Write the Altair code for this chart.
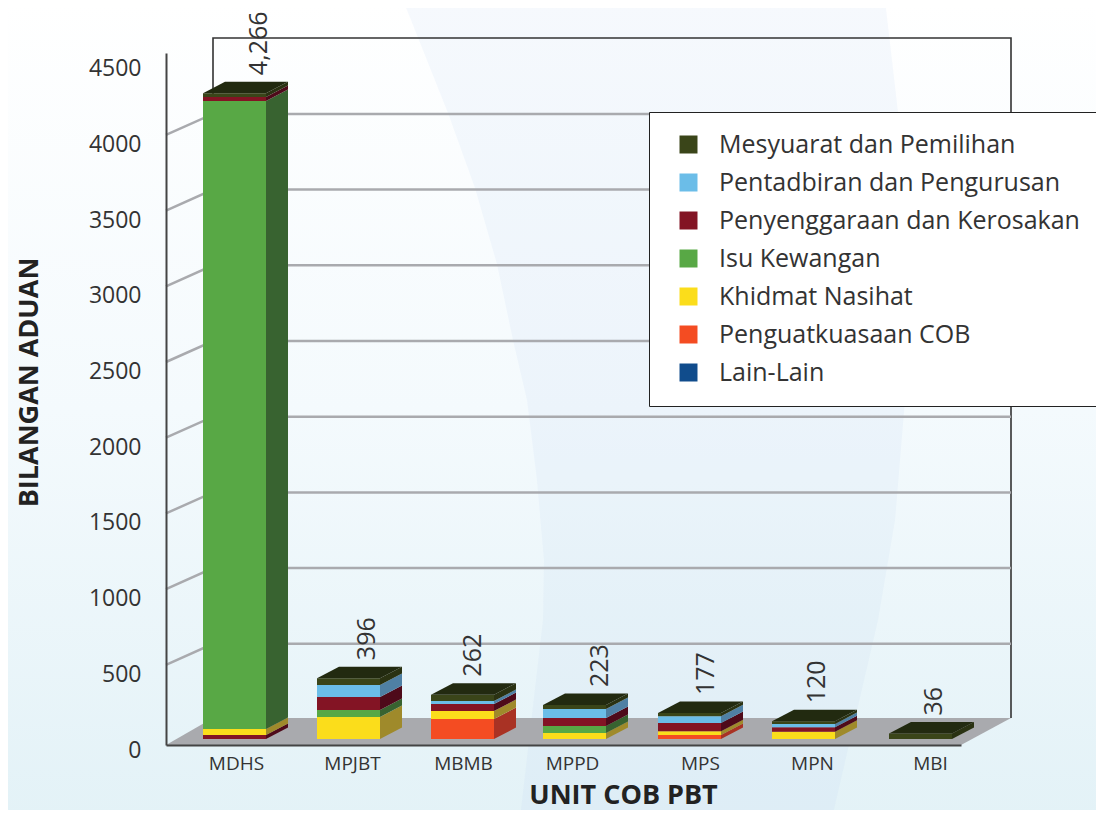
import json
import altair as alt
import pandas as pd

# ---------- data ----------
categories = ["MDHS", "MPJBT", "MBMB", "MPPD", "MPS", "MPN", "MBI"]
printed_totals = ["4,266", "396", "262", "223", "177", "120", "36"]
series = ["Mesyuarat dan Pemilihan", "Pentadbiran dan Pengurusan", "Penyenggaraan dan Kerosakan",
          "Isu Kewangan", "Khidmat Nasihat", "Penguatkuasaan COB", "Lain-Lain"]
M, P, K, I, N, C = series[:6]
# segments of each bar, bottom to top
stack_mdhs = [(K, 26), (N, 40), (I, 4148), (K, 26), (M, 26)]
stack_mpjbt = [(N, 145), (I, 46), (K, 86), (P, 79), (M, 46)]
stack_mbmb = [(C, 132), (N, 53), (K, 46), (P, 20), (M, 42)]
stack_mppd = [(N, 40), (I, 46), (K, 53), (P, 59), (M, 26)]
stack_mps = [(C, 26), (N, 26), (K, 53), (P, 46), (M, 20)]
stack_mpn = [(N, 48), (K, 29), (P, 22), (M, 18)]
stack_mbi = [(M, 36)]
stacks = [stack_mdhs, stack_mpjbt, stack_mbmb, stack_mppd, stack_mps, stack_mpn, stack_mbi]
y_ticks = [0, 500, 1000, 1500, 2000, 2500, 3000, 3500, 4000, 4500]

# ---------- styles ----------
front_colors = ["#3a4519", "#6bbde8", "#831424", "#58a845", "#fbdd1b", "#f44c22", "#104c8c"]
side_colors = ["#2a3212", "#4f80a4", "#4e0a1a", "#386330", "#9f8a2b", "#a93224", "#0c3564"]
FONT = "Open Sans"

# ---------- layout: the oblique projection, in picture pixels ----------
PX_X0, PX_Y0 = 166, 745      # origin of the scales
PX_TOP = 53
PX_RIGHT = 961
PX_PER_CAT = 114.0
PX_PER_VAL = 0.1514
W, H = PX_RIGHT - PX_X0, PX_Y0 - PX_TOP

def ux(px):
    return (px - PX_X0) / PX_PER_CAT

def uy(px):
    return (PX_Y0 - px) / PX_PER_VAL

def up(px):
    return px / PX_PER_VAL

BAR_W = 63
DEPTH_X, DEPTH_Y = 22, 11.5
BASE_Y = 739
bar_nudge = [0, 0, 0, -2, -1, -1, 2]
label_nudge = [56, 50, 42, 55, 47, 44, 47]
xtick_px = [236, 352, 463, 572, 700, 812, 930]

xs = alt.Scale(domain=[0, W / PX_PER_CAT], nice=False, zero=False)
ys = alt.Scale(domain=[0, H / PX_PER_VAL], nice=False, zero=False)

axis_x = alt.Axis(
    values=[ux(p) for p in xtick_px], labelExpr=f"{json.dumps(categories)}[floor(datum.value)]",
    ticks=False, grid=False, domainColor="#444444", domainWidth=2.2, labelFont=FONT, labelFontSize=19,
    labelColor="#333333", labelPadding=9, labelFlush=False, labelOverlap=False,
    title="UNIT COB PBT", titleFont=FONT, titleFontSize=27, titleFontWeight="bold", titleColor="#222222",
    titleX=457, titleY=37, zindex=1)
axis_y = alt.Axis(
    values=y_ticks, format="d", ticks=False, grid=False, domainColor="#444444", domainWidth=2,
    labelFont=FONT, labelFontSize=23, labelColor="#333333", labelPadding=25, labelOffset=5,
    labelFlush=False, labelOverlap=False,
    title="BILANGAN ADUAN", titleFont=FONT, titleFontSize=27, titleFontWeight="bold", titleColor="#222222",
    titleX=-123, titleY=329, zindex=1)

X = lambda f="x": alt.X(f"{f}:Q", scale=xs, axis=axis_x)
Y = lambda f="y": alt.Y(f"{f}:Q", scale=ys, axis=axis_y)
Y2 = lambda f="y2": alt.Y2(f"{f}:Q")

# ---------- derived tables ----------
front, side, top, labels = [], [], [], []
for i, (cat, stack) in enumerate(zip(categories, stacks)):
    left = 203 + 114 * i + bar_nudge[i]
    right = left + BAR_W
    lo = uy(BASE_Y)
    for j, (s, v) in enumerate(stack):
        hi = lo + v
        key = f"{cat}-{j}"
        front.append(dict(key=key, series=s, x=ux(left), x2=ux(right), y=lo, y2=hi))
        side.append(dict(key=key, series=s, x=ux(right), y=lo, y2=hi))
        side.append(dict(key=key, series=s, x=ux(right + DEPTH_X), y=lo + up(DEPTH_Y), y2=hi + up(DEPTH_Y)))
        lo = hi
    b = up(DEPTH_Y)
    top += [dict(key=cat, x=ux(left), y=lo, y2=lo),
            dict(key=cat, x=ux(left + DEPTH_X), y=lo, y2=lo + b),
            dict(key=cat, x=ux(right), y=lo, y2=lo + b),
            dict(key=cat, x=ux(right + DEPTH_X), y=lo + b, y2=lo + b)]
    labels.append(dict(text=printed_totals[i], x=ux(203 + 114 * i + label_nudge[i]), y=lo + b + up(6.5)))

grid = []
for v in y_ticks[1:-1]:
    grid += [dict(v=v, o=0, x=ux(166), y=v + up(4.5)),
             dict(v=v, o=1, x=ux(213), y=v + up(25.5)),
             dict(v=v, o=2, x=ux(1011), y=v + up(25.5))]
wall = pd.DataFrame([dict(o=0, x=ux(213), y=uy(718)), dict(o=1, x=ux(213), y=uy(38)),
                     dict(o=2, x=ux(1011), y=uy(38)), dict(o=3, x=ux(1011), y=uy(718))])
floor = pd.DataFrame([dict(x=ux(166), y=uy(745), y2=uy(745)), dict(x=ux(213), y=uy(745), y2=uy(718)),
                      dict(x=ux(961), y=uy(745), y2=uy(718)), dict(x=ux(1011), y=uy(718), y2=uy(718))])
# background sweep behind the chart
sweep_left = [(403, 0), (448, 113), (475, 188), (497, 264), (513, 340), (527, 400), (537, 480), (544, 560), (543, 620), (520, 818)]
sweep_right = [(885, 0), (898, 112), (905, 250), (905, 400), (895, 520), (878, 620), (832, 818)]
sweep_rows = [dict(o=k, x=ux(a), y=uy(b)) for k, (a, b) in enumerate(sweep_left + sweep_right[::-1])]
bg = pd.DataFrame([dict(x=ux(0), x2=ux(1104), y=uy(0), y2=uy(818))])

# ---------- layers ----------
background = alt.Chart(bg).mark_rect(
    fill=alt.LinearGradient(gradient="linear", x1=0, x2=0, y1=0, y2=1, stops=[
        alt.GradientStop(offset=0, color="#ffffff"),
        alt.GradientStop(offset=0.5, color="#f4fafd"),
        alt.GradientStop(offset=1, color="#e3f2f7")])
).encode(x=X(), x2=alt.X2("x2:Q"), y=Y(), y2=Y2())

sweep = alt.Chart(pd.DataFrame(sweep_rows)).mark_line(
    filled=True, fill="#bcd6ee", fillOpacity=0.14, strokeWidth=0, interpolate="linear-closed"
).encode(x=X(), y=Y(), order="o:Q")

floor_l = alt.Chart(floor).mark_area(color="#a9aaae", orient="vertical").encode(x=X(), y=Y(), y2=Y2())
walls = alt.Chart(wall).mark_line(color="#333333", strokeWidth=1.6).encode(x=X(), y=Y(), order="o:Q")
grid_l = alt.Chart(pd.DataFrame(grid)).mark_line(color="#a9aaae", strokeWidth=2.5).encode(
    x=X(), y=Y(), detail="v:N", order="o:Q")

sides = alt.Chart(pd.DataFrame(side)).mark_area(orient="vertical").encode(
    x=X(), y=Y(), y2=Y2(), detail="key:N",
    color=alt.Color("series:N", scale=alt.Scale(domain=series, range=side_colors), legend=None))
tops = alt.Chart(pd.DataFrame(top)).mark_area(orient="vertical", color="#222a10").encode(
    x=X(), y=Y(), y2=Y2(), detail="key:N")

fronts = alt.Chart(pd.DataFrame(front)).mark_rect().encode(
    x=X(),
    x2="x2:Q",
    y=Y(),
    y2="y2:Q",
    color=alt.Color("series:N", scale=alt.Scale(domain=series, range=front_colors),
                    sort=series,
                    legend=alt.Legend(title=None, orient="none", legendX=649 - PX_X0, legendY=112 - PX_TOP,
                                      fillColor="#ffffff", strokeColor="#222222", padding=20,
                                      symbolType="square", symbolSize=324, symbolStrokeWidth=0, symbolOffset=7,
                                      labelFont=FONT, labelFontSize=25, labelColor="#333333", labelLimit=500,
                                      labelOffset=18, rowPadding=12)))

label_l = alt.Chart(pd.DataFrame(labels)).mark_text(
    angle=270, align="left", baseline="middle", font=FONT, fontSize=25, color="#333333"
).encode(x=X(), y=Y(), text="text:N")

chart = alt.layer(background, sweep, floor_l, walls, grid_l, sides, fronts, tops, label_l).resolve_scale(
    color="independent"
).properties(
    width=W, height=H,
    autosize=alt.AutoSizeParams(type="none"),
    padding={"left": PX_X0 - 8, "top": PX_TOP - 8, "right": 1096 - PX_RIGHT, "bottom": 810 - PX_Y0},
).configure_view(stroke=None)

chart.save("out.html", embed_options={"renderer": "svg", "actions": False})
